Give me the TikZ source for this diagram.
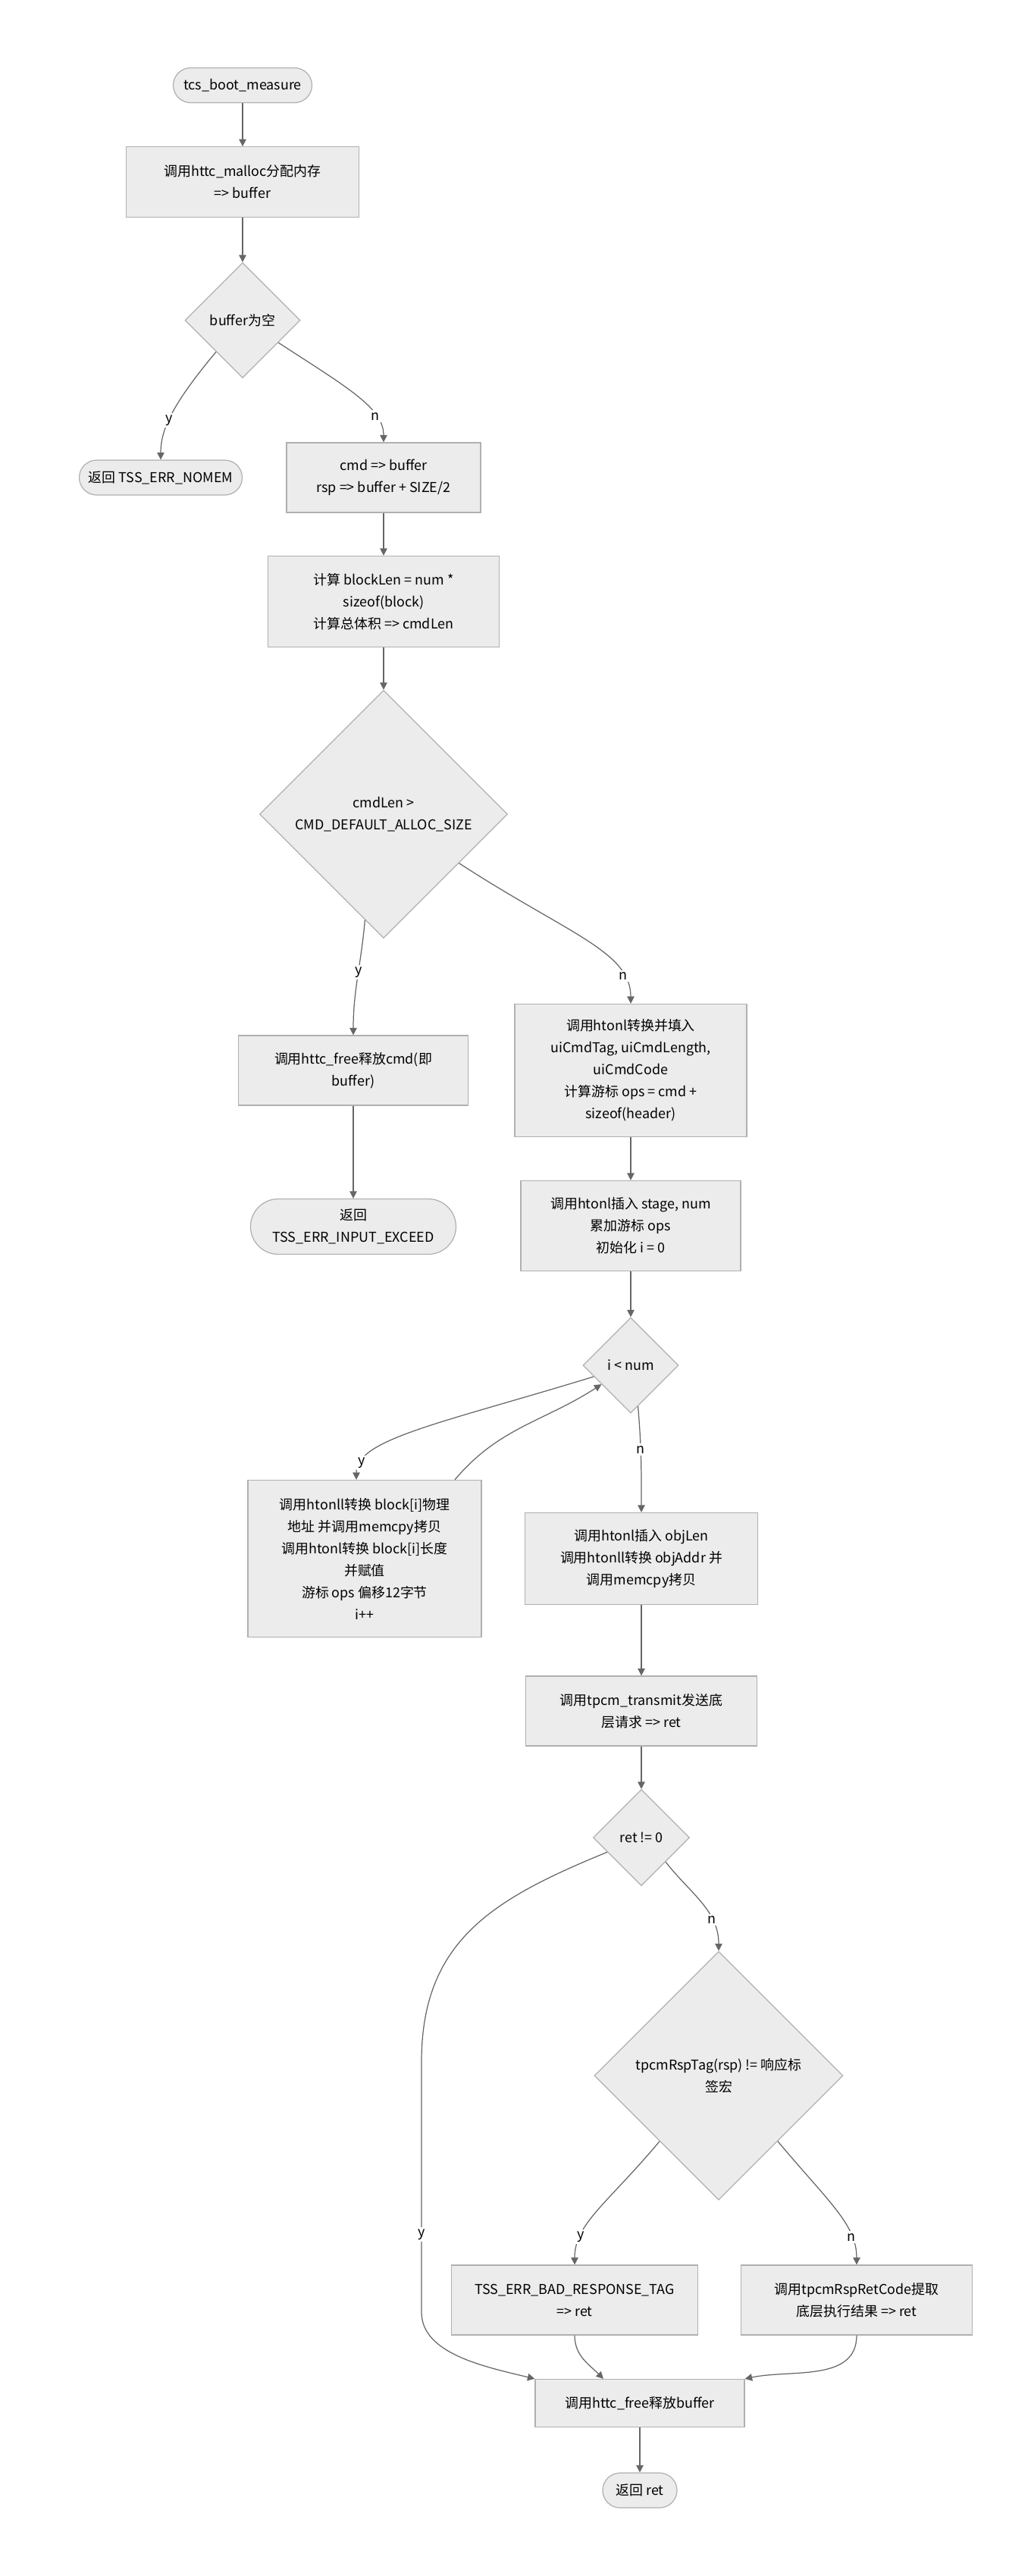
\documentclass[tikz,border=0pt]{standalone}
\usepackage{fontspec}
\setmainfont{Noto Sans CJK SC}
\usetikzlibrary{shapes.geometric,arrows.meta}
\definecolor{nodefill}{HTML}{ECECEC}
\definecolor{nodeline}{HTML}{B0B0B0}
\definecolor{edgeline}{HTML}{666666}
\begin{document}
\begin{tikzpicture}[>={Triangle[length=1.9mm,width=1.9mm]},
    proc/.style={draw=nodeline, fill=nodefill, line width=.7pt, align=center, font=\fontsize{10.2pt}{16.5pt}\selectfont, inner sep=2pt, minimum width=6.1cm, minimum height=1.84cm},
    term/.style={proc, rounded corners=.46cm, minimum height=.92cm},
    dec/.style={diamond, aspect=1, draw=nodeline, fill=nodefill, line width=.7pt, align=center, font=\fontsize{10.2pt}{16.5pt}\selectfont, inner sep=0pt},
    flow/.style={->, draw=edgeline, line width=.7pt},
    lbl/.style={fill=white, inner sep=1.5pt, font=\fontsize{10.2pt}{12pt}\selectfont}]
  \useasboundingbox (0,0) rectangle (27.2,-67.96);
  \node[term, minimum width=3.66cm] (start) at (6.4,-2.25) {tcs\_boot\_measure};
  \node[proc, minimum width=6.14cm, minimum height=1.85cm] (malloc) at (6.4,-4.8) {调用httc\_malloc分配内存\\=> buffer};
  \node[dec, minimum size=3.04cm] (isnull) at (6.4,-8.45) {buffer为空};
  \node[term, minimum width=4.3cm] (nomem) at (4.24,-12.6) {返回 TSS\_ERR\_NOMEM};
  \node[proc, minimum width=5.12cm] (setptr) at (10.12,-12.6) {cmd => buffer\\rsp => buffer + SIZE/2};
  \node[proc, minimum height=2.4cm] (calclen) at (10.12,-15.87) {计算 blockLen = num *\\sizeof(block)\\计算总体积 => cmdLen};
  \node[dec, minimum size=6.54cm] (toolong) at (10.12,-21.48) {cmdLen >\\CMD\_DEFAULT\_ALLOC\_SIZE};
  \node[proc, minimum width=6.06cm] (freecmd) at (9.32,-28.24) {调用httc\_free释放cmd(即\\buffer)};
  \node[term, minimum width=5.42cm, minimum height=1.46cm, rounded corners=.73cm] (exceed) at (9.32,-32.36) {返回\\TSS\_ERR\_INPUT\_EXCEED};
  \node[proc, minimum width=6.12cm, minimum height=3.5cm] (header) at (16.64,-28.24) {调用htonl转换并填入\\uiCmdTag, uiCmdLength,\\uiCmdCode\\计算游标 ops = cmd +\\sizeof(header)};
  \node[proc, minimum width=5.8cm, minimum height=2.38cm] (stage) at (16.64,-32.34) {调用htonl插入 stage, num\\累加游标 ops\\初始化 i = 0};
  \node[dec, minimum size=2.52cm] (loop) at (16.64,-36.02) {i < num};
  \node[proc, minimum width=6.16cm, minimum height=4.14cm] (block) at (9.62,-41.12) {调用htonll转换 block[i]物理\\地址 并调用memcpy拷贝\\调用htonl转换 block[i]长度\\并赋值\\游标 ops 偏移12字节\\i++};
  \node[proc, minimum width=6.14cm, minimum height=2.42cm] (objlen) at (16.92,-41.12) {调用htonl插入 objLen\\调用htonll转换 objAddr 并\\调用memcpy拷贝};
  \node[proc] (transmit) at (16.92,-45.14) {调用tpcm\_transmit发送底\\层请求 => ret};
  \node[dec, minimum size=2.54cm] (retchk) at (16.92,-48.48) {ret != 0};
  \node[dec, minimum size=6.56cm] (tagchk) at (18.96,-54.76) {tpcmRspTag(rsp) != 响应标\\签宏};
  \node[proc, minimum width=6.5cm] (badtag) at (15.16,-60.68) {TSS\_ERR\_BAD\_RESPONSE\_TAG\\=> ret};
  \node[proc] (retcode) at (22.6,-60.68) {调用tpcmRspRetCode提取\\底层执行结果 => ret};
  \node[proc, minimum width=5.52cm, minimum height=1.26cm] (freebuf) at (16.88,-63.4) {调用httc\_free释放buffer};
  \node[term, minimum width=1.96cm] (retret) at (16.88,-65.7) {返回 ret};
  \draw[flow] (start) -- (malloc);
  \draw[flow] (malloc) -- (isnull);
  \draw[flow] (isnull.-130) to[out=-130,in=90,out looseness=1.5,in looseness=.6] node[lbl,pos=.55]{y} (nomem);
  \draw[flow] (isnull.-32) to[out=-33,in=90,out looseness=1.5,in looseness=.6] node[lbl,pos=.72]{n} (setptr);
  \draw[flow] (setptr) -- (calclen);
  \draw[flow] (calclen) -- (toolong);
  \draw[flow] (toolong.-100) to[out=-95,in=90] node[lbl,pos=.45]{y} (freecmd);
  \draw[flow] (toolong.-33) to[out=-33,in=90,out looseness=1.5,in looseness=.6] node[lbl,pos=.8]{n} (header);
  \draw[flow] (freecmd) -- (exceed);
  \draw[flow] (header) -- (stage);
  \draw[flow] (stage) -- (loop);
  \draw[flow] (loop.197) to[out=197,in=90,out looseness=1.6,in looseness=.4] node[lbl,pos=.85]{y} ([xshift=-2.2mm]block.north);
  \draw[flow] ([xshift=23.8mm]block.north) to[out=50,in=213] (loop.213);
  \draw[flow] (loop.-80) to[out=-85,in=90] node[lbl,pos=.4]{n} (objlen);
  \draw[flow] (objlen) -- (transmit);
  \draw[flow] (transmit) -- (retchk);
  \draw[flow] (retchk.203) .. controls (13.0,-50.1) and (11.12,-51.2) .. (11.12,-54.4) -- node[lbl,pos=.69]{y} (11.12,-61.0) .. controls (11.12,-62.1) and (12.8,-62.44) .. (freebuf.north west);
  \draw[flow] (retchk.-45) to[out=-52,in=90] node[lbl,pos=.7]{n} (tagchk);
  \draw[flow] (tagchk.228) to[out=-130,in=90,out looseness=1.4,in looseness=.7] node[lbl,pos=.75]{y} (badtag);
  \draw[flow] (tagchk.-48) to[out=-50,in=90,out looseness=1.4,in looseness=.7] node[lbl,pos=.75]{n} (retcode);
  \draw[flow] (badtag) to[out=-90,in=135] ([xshift=-9.6mm]freebuf.north);
  \draw[flow] (retcode) to[out=-90,in=12] (freebuf.north east);
  \draw[flow] (freebuf) -- (retret);
\end{tikzpicture}
\end{document}
